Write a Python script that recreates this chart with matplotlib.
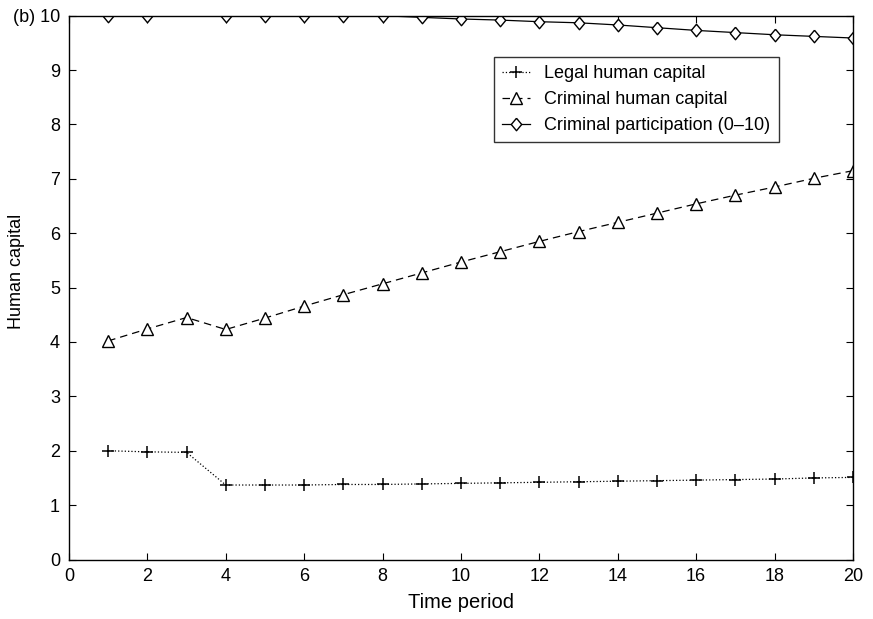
import numpy as np
import matplotlib
matplotlib.use("Agg")
from matplotlib import pyplot as plt

plt.rcParams['font.family'] = ['Liberation Sans', 'DejaVu Sans']

periods = list(range(1, 21))
legal = [2.00, 1.98, 1.97, 1.37, 1.37, 1.37, 1.38, 1.38, 1.39, 1.40,
         1.41, 1.42, 1.43, 1.44, 1.45, 1.46, 1.47, 1.48, 1.50, 1.51]
criminal = [4.02, 4.24, 4.45, 4.23, 4.44, 4.66, 4.87, 5.07, 5.27, 5.47,
            5.66, 5.85, 6.03, 6.20, 6.37, 6.54, 6.70, 6.85, 7.01, 7.15]
participation = [10.0, 10.0, 10.0, 10.0, 10.0, 10.0, 10.0, 10.0, 9.97, 9.94,
                 9.92, 9.89, 9.87, 9.83, 9.78, 9.73, 9.69, 9.65, 9.62, 9.59]

xticks = list(range(0, 21, 2))
yticks = list(range(0, 11))
ylabels = [str(v) for v in yticks[:-1]] + ['(b) 10']

# diamond a bit taller than wide, like the original
diamond = [(0, 0.6), (0.5, 0), (0, -0.6), (-0.5, 0), (0, 0.6)]

fig = plt.figure(figsize=(8.73, 6.19), dpi=100)
ax = fig.add_axes([0.079, 0.0961, 0.898, 0.8785])

ax.plot(periods, legal, ':', color='black', lw=0.9, marker='+', ms=8,
        mew=1.1, label='Legal human capital')
ax.plot(periods, criminal, color='black', lw=0.9, marker='^', ms=8,
        mfc='white', mew=1.0, label='Criminal human capital', dashes=(6, 4))
# the marker at period 3 is not drawn in the original
mk = [i for i in range(20) if i != 2]
ax.plot(periods, participation, '-', color='black', lw=0.9, marker=diamond,
        ms=9, mfc='white', mew=1.0, markevery=mk,
        label='Criminal participation (0\u201310)')

ax.set_xlim(0, 20)
ax.set_ylim(0, 10)
ax.set_xticks(xticks)
ax.set_yticks(yticks)
ax.set_yticklabels(ylabels)
ax.tick_params(direction='in', top=True, right=True, labelsize=13, length=5)
ax.tick_params(axis='x', pad=6)
ax.tick_params(axis='y', pad=6.5)
for s in ax.spines.values():
    s.set_linewidth(1.0)

ax.set_xlabel('Time period', fontsize=14.5)
ax.xaxis.set_label_coords(0.5, -0.061)
ax.set_ylabel('Human capital', fontsize=13)
ax.yaxis.set_label_coords(-0.056, 0.53)

leg = ax.legend(loc='upper left', bbox_to_anchor=(0.542, 0.924), fontsize=13,
                frameon=True, fancybox=False, edgecolor='black', borderaxespad=0,
                handlelength=1.55, handletextpad=0.8, borderpad=0.45,
                labelspacing=0.5)
leg.get_frame().set_linewidth(1.0)

fig.savefig('out.png', dpi=100)
